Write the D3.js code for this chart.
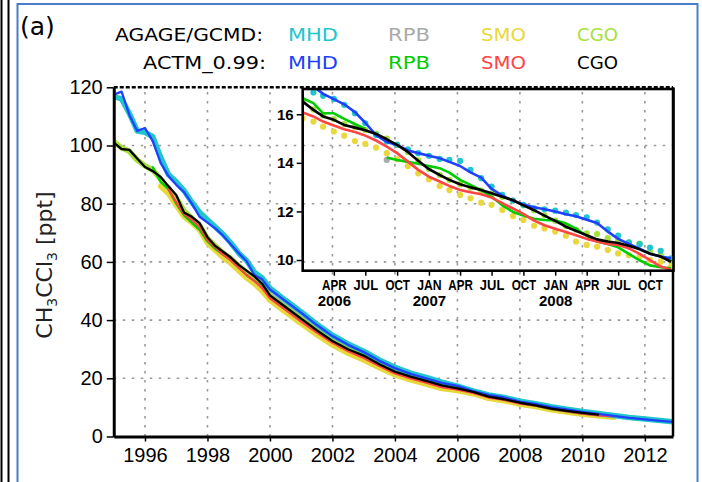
<!DOCTYPE html>
<html>
<head>
<meta charset="utf-8">
<script src="https://cdn.jsdelivr.net/npm/d3@7"></script>
<style>
    body { margin: 0; background: #fff; }
    svg { display: block; }
</style>
</head>
<body>
<script>
// ---- data ----
const mainYears = [1995, 1995.25, 1995.5, 1995.75, 1996, 1996.25, 1996.5, 1996.75, 1997, 1997.25,
    1997.5, 1997.75, 1998, 1998.25, 1998.5, 1998.75, 1999, 1999.25, 1999.5, 1999.75, 2000,
    2000.5, 2001, 2001.5, 2002, 2002.5, 2003, 2003.5, 2004, 2004.5, 2005, 2005.5, 2006, 2006.5,
    2007, 2007.5, 2008, 2008.5, 2009, 2009.5, 2010, 2010.5, 2011, 2011.5, 2012, 2012.5, 2012.9];

// AGAGE/GCMD observations
const obsMHD = [116.8, 116, 111, 105, 104.5, 103, 96, 90, 87.5, 84.5, 80.5, 77, 74.5, 72, 69.5, 66.5,
    63, 60.5, 56.5, 54.5, 51, 46.8, 42.8, 38.6, 34.8, 31.8, 29.3, 26.3, 23.8, 21.8, 20.3, 18.7, 17.3,
    15.7, 14.3, 13.4, 12.1, 11.3, 10.2, 9.4, 8.6, 7.9, 7.2, 6.5, 6.0, 5.5, 5.1];
const obsRPB = [null, null, null, null, null, null, null, 85.5, 80.5, 76.5, 74, 71.5, 67.5, 65, 63, 61,
    58.5, 56, 54, 52, 48.5, 44.5, 40.5, 36.6, 33.0, 30.0, 27.7, 24.8, 22.3, 20.6, 19.1, 17.6, 16.8,
    15.4, null, null, null, null, null, null, null, null, null, null, null, null, null];
const obsSMO = [null, null, null, null, null, null, 86, 83.5, 79.5, 75.5, 73.5, 71, 66.5, 64, 61.5,
    59.5, 57, 54.5, 52.5, 50, 46.8, 42.8, 38.8, 35.0, 31.5, 28.6, 26.3, 23.6, 21.2, 19.5, 18.0, 16.5,
    15.8, 14.7, 13.1, 12.3, 11.1, 10.3, 9.2, 8.4, 7.6, 7.1, 6.6, null, null, null, null];
const obsCGO = [101.3, 99.2, 98, 95, 93, 91.5, 88.5, 85, 82, 77.5, 75, 72.5, 68, 65.5, 63, 61, 58.5,
    56.5, 54.5, 52, 48, 44.2, 40.2, 36.2, 32.5, 29.6, 27.3, 24.4, 22.0, 20.3, 18.8, 17.4, 16.5, 15.2,
    13.7, 12.7, 11.6, 10.6, 9.5, 8.7, 8.0, 7.4, 6.8, null, null, null, null];

// ACTM_0.99 model
const actmMHD = [117.5, 118.5, 110.5, 105, 106, 101.5, 94, 89.5, 86.5, 84, 80, 75.5, 73.5, 71.5, 69,
    66, 63, 60.3, 55.5, 54, 50.5, 46.5, 42.5, 38.3, 34.5, 31.5, 29.0, 26.0, 23.5, 21.5, 20.0, 18.4,
    17.4, 15.6, 14.3, 13.4, 12.0, 11.2, 10.1, 9.3, 8.5, 7.8, 7.1, 6.4, 5.9, 5.4, 5.0];
const actmRPB = [null, null, null, null, null, 92.5, 87.5, 85, 80, 76, 73.5, 71, 67, 64.5, 62.5, 60.5,
    58, 55.5, 53.5, 51.5, 48, 44, 40, 36.2, 32.6, 29.7, 27.4, 24.5, 22.0, 20.3, 18.8, 17.3, 16.6,
    15.2, 13.9, 12.7, 11.6, 10.6, 9.4, 8.6, 7.9, 7.4, null, null, null, null, null];
const actmSMO = [null, null, null, null, null, null, null, 85, 80.5, 76.5, 74.5, 72, 67.5, 65, 62.5,
    60.5, 58, 55.5, 53.5, 51, 47.5, 43.5, 39.5, 35.7, 32.2, 29.3, 27.0, 24.2, 21.7, 20.0, 18.5, 17.0,
    16.1, 15.0, 13.4, 12.6, 11.3, 10.6, 9.5, 8.6, 7.9, 7.3, 6.9, null, null, null, null];
const actmCGO = [101, 98.8, 98.5, 95.5, 92.6, 91.2, 89.2, 86, 83, 77, 75.5, 73.3, 68.5, 65.5, 63.5,
    61.5, 59, 57, 55, 52.5, 48.5, 44.5, 40.5, 36.5, 32.8, 30.0, 27.8, 24.8, 22.3, 20.6, 19.1, 17.6,
    16.5, 15.3, 13.7, 12.8, 11.6, 10.7, 9.6, 8.8, 8.1, 7.5, null, null, null, null, null];

// inset: monthly values Jan 2006 .. Dec 2008
const insetObsMHD = [17.2, 16.9, 16.76, 16.63, 16.39, 16.04, 15.63, 15.15, 14.88, 14.74, 14.56, 14.4,
    14.29, 14.16, 14.12, 14.08, 13.71, 13.37, 13.02, 12.68, 12.45, 12.27, 12.13, 12.09, 12.03, 11.95,
    11.85, 11.76, 11.54, 11.26, 11.0, 10.73, 10.65, 10.51, 10.38, 10.07];
const insetObsRPB = [null, null, null, null, null, null, null, null, 14.12, null, null, null, null, null,
    null, null, null, null, null, null, null, null, null, null, null, null, null, null, null, null,
    null, null, null, null, null, null];
const insetObsSMO = [15.84, 15.7, 15.49, 15.29, 15.12, 14.9, 14.78, 14.63, 14.4, 14.15, 13.87, 13.57,
    13.32, 13.05, 12.88, 12.68, 12.54, 12.36, 12.27, 12.06, 11.81, 11.65, 11.41, 11.3, 11.17, 11.0,
    10.76, 10.62, 10.55, 10.41, 10.27, 10.2, 10.14, 10.0, 9.93, 9.73];
const insetObsCGO = [16.55, 16.2, 15.95, 15.8, 15.6, 15.48, 15.35, 15.2, 15.0, 14.75, 14.45, 14.1,
    13.75, 13.5, 13.3, 13.12, 12.98, 12.86, 12.74, 12.6, 12.45, 12.25, 12.05, 11.84, 11.62, 11.4,
    11.25, 11.1, 11.07, 10.9, 10.8, 10.72, 10.68, 10.35, 10.2, 9.95];
const insetActmMHD = [17.4, 17.15, 16.84, 16.62, 16.41, 16.09, 15.65, 15.14, 14.86, 14.73, 14.51, 14.4,
    14.29, 14.19, 14.04, 13.87, 13.61, 13.39, 12.93, 12.65, 12.45, 12.28, 12.17, 12.09, 12.0, 11.88,
    11.8, 11.66, 11.52, 11.17, 10.87, 10.66, 10.47, 10.26, 10.14, 10.07];
const insetActmRPB = [16.66, 16.46, 16.04, 16.04, 15.81, 15.6, 15.4, null, 14.22, 14.12, 14.04, 13.96,
    13.87, 13.78, 13.6, 13.3, 13.09, 12.88, 12.61, 12.25, 11.98, 11.83, 11.7, 11.65, 11.63, 11.51,
    11.29, 10.99, 10.76, 10.66, 10.52, 10.25, 9.99, 9.78, 9.7, 9.66];
const insetActmSMO = [16.07, 15.91, 15.7, 15.54, 15.38, 15.27, 15.12, 14.92, 14.67, 14.4, 14.05, 13.71,
    13.43, 13.23, 13.05, 12.88, 12.79, 12.71, 12.57, 12.34, 12.12, 11.9, 11.62, 11.43, 11.29, 11.15,
    11.02, 10.87, 10.76, 10.66, 10.62, 10.48, 10.25, 10.0, 9.73, 9.59];
const insetActmCGO = [16.52, 16.18, 15.91, 15.77, 15.56, 15.45, 15.34, 15.19, 14.97, 14.74, 14.45, 14.09,
    13.74, 13.5, 13.3, 13.12, 12.99, 12.88, 12.75, 12.6, 12.46, 12.25, 12.05, 11.83, 11.61, 11.37,
    11.2, 11.02, 10.85, 10.76, 10.7, 10.59, 10.44, 10.26, 10.14, 9.93];

const mainXTicks = [1996, 1998, 2000, 2002, 2004, 2006, 2008, 2010, 2012];
const mainYTicks = [0, 20, 40, 60, 80, 100, 120];
const insetYTicks = [10, 12, 14, 16];
const stations = ["MHD", "RPB", "SMO", "CGO"];

// ---- drawing ----
const W = 702, H = 482;
const C = {
    cyan: "#20c6cc", gray: "#aaaaaa", yellow: "#e8d83c", ygreen: "#a6e03a",
    blue: "#2040ff", green: "#00cc00", red: "#ff4444", black: "#000000"
};
const obsColors = [C.cyan, C.gray, C.yellow, C.ygreen];
const modelColors = [C.blue, C.green, C.red, C.black];

const M = { left: 113.75, right: 673, top: 87.3, bottom: 436.5 };
const INS = { left: 302.7, right: 673.5, top: 89, bottom: 270.7 };

const svg = d3.select("body").append("svg")
    .attr("width", W)
    .attr("height", H)
    .style("font-family", "'Liberation Sans', Arial, sans-serif");

// page frame
svg.append("line").attr("x1", 1.5).attr("x2", 1.5).attr("y1", 0).attr("y2", H)
    .attr("stroke", "#000").attr("stroke-width", 2);
svg.append("line").attr("x1", 8.5).attr("x2", 8.5).attr("y1", 0).attr("y2", H)
    .attr("stroke", "#000").attr("stroke-width", 2);
svg.append("rect").attr("x", 17.5).attr("y", 4).attr("width", 680).attr("height", H)
    .attr("fill", "none").attr("stroke", "#4a7ccc").attr("stroke-width", 2);

const x = d3.scaleLinear().domain([1995, 2012.9]).range([M.left, M.right]);
const y = d3.scaleLinear().domain([0, 120]).range([M.bottom, M.top]);

// dotted grid
const grid = svg.append("g")
    .attr("stroke", "#999")
    .attr("stroke-width", 1.6)
    .attr("stroke-dasharray", "2.5,6.5");
grid.selectAll("line.v").data(mainXTicks).join("line").attr("class", "v")
    .attr("x1", d => x(d)).attr("x2", d => x(d))
    .attr("y1", M.bottom).attr("y2", M.top);
grid.selectAll("line.h").data(mainYTicks.filter(v => v > 0 && v < 120)).join("line").attr("class", "h")
    .attr("x1", M.left).attr("x2", M.right)
    .attr("y1", d => y(d)).attr("y2", d => y(d));

// main series
svg.append("clipPath").attr("id", "mainClip").append("rect")
    .attr("x", M.left).attr("y", M.top).attr("width", M.right - M.left).attr("height", M.bottom - M.top);

const line = d3.line()
    .defined(d => d[1] != null)
    .x(d => x(d[0]))
    .y(d => y(d[1]));

const mainSeries = [
    { vals: obsRPB, color: C.gray, w: 5.5 },
    { vals: obsCGO, color: C.ygreen, w: 5.5 },
    { vals: obsSMO, color: C.yellow, w: 5.5 },
    { vals: obsMHD, color: C.cyan, w: 5.5 },
    { vals: actmRPB, color: C.green, w: 2.3 },
    { vals: actmSMO, color: C.red, w: 2.3 },
    { vals: actmMHD, color: C.blue, w: 2.3 },
    { vals: actmCGO, color: C.black, w: 2.3 }
];

svg.append("g")
    .attr("clip-path", "url(#mainClip)")
    .selectAll("path")
    .data(mainSeries)
    .join("path")
    .attr("fill", "none")
    .attr("stroke", s => s.color)
    .attr("stroke-width", s => s.w)
    .attr("stroke-linejoin", "round")
    .attr("stroke-linecap", "round")
    .attr("d", s => line(mainYears.map((t, i) => [t, s.vals[i]])));

// main axes
const yAxis = svg.append("g")
    .attr("transform", `translate(${M.left},0)`)
    .call(d3.axisLeft(y).tickValues(mainYTicks).tickSize(7).tickPadding(4).tickSizeOuter(0));
const xAxis = svg.append("g")
    .attr("transform", `translate(0,${M.bottom})`)
    .call(d3.axisBottom(x).tickValues(mainXTicks).tickFormat(d3.format("d")).tickSize(5).tickPadding(6).tickSizeOuter(0));

[yAxis, xAxis].forEach(ax => {
    ax.select(".domain").attr("stroke", "#000").attr("stroke-width", 3);
    ax.selectAll(".tick line").attr("stroke", "#000").attr("stroke-width", 1.5);
    ax.selectAll(".tick text")
        .attr("fill", "#000")
        .style("font-size", "20px")
        .style("font-family", "'Liberation Sans', Arial, sans-serif");
});

svg.append("line").attr("x1", M.right).attr("x2", M.right).attr("y1", M.top).attr("y2", M.bottom)
    .attr("stroke", "#000").attr("stroke-width", 2.5);
svg.append("line").attr("x1", M.left).attr("x2", M.right).attr("y1", M.top).attr("y2", M.top)
    .attr("stroke", "#000").attr("stroke-width", 2.5).attr("stroke-dasharray", "4,2");

// ---- inset ----
const insetMonths = d3.timeMonth.range(new Date(2006, 0, 1), new Date(2009, 0, 1));
const ix = d3.scaleTime().domain([new Date(2006, 0, 1), new Date(2008, 11, 8)]).range([INS.left, INS.right]);
const iy = d3.scaleLinear().domain([9.56, 17.04]).range([INS.bottom, INS.top]);

svg.append("clipPath").attr("id", "insetClip").append("rect")
    .attr("x", INS.left).attr("y", INS.top).attr("width", INS.right - INS.left).attr("height", INS.bottom - INS.top);

const inset = svg.append("g").attr("clip-path", "url(#insetClip)");

const insetObs = [
    { vals: insetObsRPB, color: C.gray },
    { vals: insetObsCGO, color: C.ygreen },
    { vals: insetObsSMO, color: C.yellow },
    { vals: insetObsMHD, color: C.cyan }
];
const insetModel = [
    { vals: insetActmRPB, color: C.green },
    { vals: insetActmSMO, color: C.red },
    { vals: insetActmMHD, color: C.blue },
    { vals: insetActmCGO, color: C.black }
];

inset.selectAll("g.obs")
    .data(insetObs)
    .join("g")
    .attr("class", "obs")
    .attr("fill", s => s.color)
    .selectAll("circle")
    .data(s => insetMonths.map((m, i) => [m, s.vals[i]]).filter(d => d[1] != null))
    .join("circle")
    .attr("cx", d => ix(d[0]))
    .attr("cy", d => iy(d[1]))
    .attr("r", 3.1);

const iline = d3.line()
    .defined(d => d[1] != null)
    .x(d => ix(d[0]))
    .y(d => iy(d[1]));

inset.selectAll("path.model")
    .data(insetModel)
    .join("path")
    .attr("class", "model")
    .attr("fill", "none")
    .attr("stroke", s => s.color)
    .attr("stroke-width", 2.6)
    .attr("stroke-linejoin", "round")
    .attr("d", s => iline(insetMonths.map((m, i) => [m, s.vals[i]])));

svg.append("rect")
    .attr("x", INS.left).attr("y", INS.top)
    .attr("width", INS.right - INS.left).attr("height", INS.bottom - INS.top)
    .attr("fill", "none").attr("stroke", "#000").attr("stroke-width", 2.6);

const quarterTicks = d3.timeMonth.every(3).range(new Date(2006, 3, 1), new Date(2008, 11, 1));
const monthFmt = d3.timeFormat("%b");

const ixAxis = svg.append("g")
    .attr("transform", `translate(0,${INS.bottom})`)
    .call(d3.axisBottom(ix).tickValues(quarterTicks).tickSize(5).tickPadding(4).tickSizeOuter(0)
        .tickFormat(d => monthFmt(d).toUpperCase()));
ixAxis.select(".domain").remove();
ixAxis.selectAll(".tick line").attr("stroke", "#000").attr("stroke-width", 1.5);
ixAxis.selectAll(".tick text")
    .attr("fill", "#000")
    .attr("textLength", 24.5)
    .attr("lengthAdjust", "spacingAndGlyphs")
    .style("font-size", "14.5px")
    .style("font-weight", "bold");
ixAxis.selectAll(".tick")
    .filter((d, i) => i === 0 || d.getMonth() === 0)
    .append("text")
    .attr("fill", "#000")
    .attr("y", 35)
    .attr("text-anchor", "middle")
    .style("font-size", "15px")
    .style("font-weight", "bold")
    .text(d => d.getFullYear());

const iyAxis = svg.append("g")
    .attr("transform", `translate(${INS.left},0)`)
    .call(d3.axisLeft(iy).tickValues(insetYTicks).tickSize(6).tickPadding(3).tickSizeOuter(0));
iyAxis.select(".domain").remove();
iyAxis.selectAll(".tick line").attr("stroke", "#000").attr("stroke-width", 1.5);
iyAxis.selectAll(".tick text")
    .attr("fill", "#000")
    .style("font-size", "15px")
    .style("font-weight", "bold");

// ---- labels ----
const legendFont = "'DejaVu Sans', sans-serif";

svg.append("text")
    .attr("x", 20).attr("y", 35)
    .style("font-family", legendFont)
    .style("font-size", "25px")
    .text("(a)");

const rowLabels = [
    { text: "AGAGE/GCMD:", x: 115, len: 148, y: 40.7, colors: obsColors },
    { text: "ACTM_0.99:", x: 143, len: 123, y: 69.3, colors: modelColors }
];
const colX = [288, 388, 481, 577];
const colLen = [50, 42, 45, 41];

rowLabels.forEach(row => {
    svg.append("text")
        .attr("x", row.x).attr("y", row.y)
        .attr("textLength", row.len)
        .attr("lengthAdjust", "spacingAndGlyphs")
        .style("font-family", legendFont)
        .style("font-size", "17px")
        .text(row.text);
    svg.append("g").selectAll("text")
        .data(stations)
        .join("text")
        .attr("x", (d, i) => colX[i])
        .attr("y", row.y)
        .attr("textLength", (d, i) => colLen[i])
        .attr("lengthAdjust", "spacingAndGlyphs")
        .attr("fill", (d, i) => row.colors[i])
        .style("font-family", legendFont)
        .style("font-size", "17px")
        .text(d => d);
});

const ylab = svg.append("text")
    .attr("transform", "translate(52,265) rotate(-90)")
    .attr("text-anchor", "middle")
    .attr("fill", "#222")
    .style("font-family", legendFont)
    .style("font-size", "22px");
ylab.append("tspan").text("CH");
ylab.append("tspan").attr("dy", 5).style("font-size", "14px").text("3");
ylab.append("tspan").attr("dy", -5).text("CCl");
ylab.append("tspan").attr("dy", 5).style("font-size", "14px").text("3");
ylab.append("tspan").attr("dy", -5).text(" [ppt]");
</script>
</body>
</html>
